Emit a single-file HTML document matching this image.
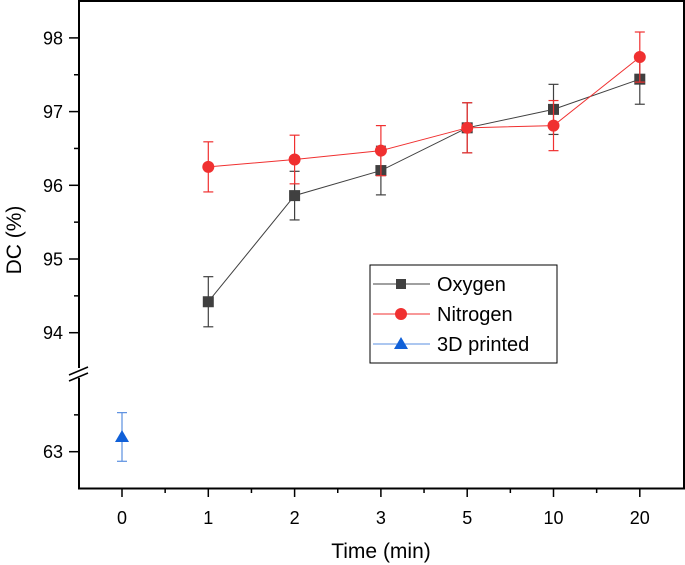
<!DOCTYPE html>
<html><head><meta charset="utf-8"><style>
html,body{margin:0;padding:0;background:#fff}
svg{display:block;font-family:"Liberation Sans",Arial,sans-serif}
</style></head><body>
<svg id="chart" width="685" height="565" viewBox="0 0 685 565"></svg>
<script>
const categories=["0","1","2","3","5","10","20"];
const oxygenX=[1,2,3,4,5,6];
const oxygenY=[94.42,95.86,96.20,96.78,97.03,97.44];
const oxygenErr=[0.34,0.33,0.33,0.34,0.34,0.34];
const nitrogenX=[1,2,3,4,5,6];
const nitrogenY=[96.25,96.35,96.47,96.78,96.81,97.74];
const nitrogenErr=[0.34,0.33,0.34,0.34,0.34,0.34];
const printedX=[0];
const printedY=[63.2];
const printedErr=[0.33];
const upperTicks=[94,95,96,97,98];
const lowerTicks=[63];

const NS="http://www.w3.org/2000/svg";
const svg=document.getElementById('chart');
function el(tag,attrs,parent){const e=document.createElementNS(NS,tag);for(const k in attrs)e.setAttribute(k,attrs[k]);(parent||svg).appendChild(e);return e;}
function xs(i){return 122+i*86.3;}
function ys(v){return v>80?332.7-(v-94)*73.7:451.7-(v-63)*73.7;}

const frame=el('path',{d:'M79,1 H684 V488.5 H79 Z',fill:'none',stroke:'#000','stroke-width':2});


const gap=el('rect',{x:70,y:368,width:18,height:10,fill:'#fff'});


const b1=el('line',{x1:69,y1:375,x2:88,y2:367,stroke:'#000','stroke-width':1.5});


const b2=el('line',{x1:69,y1:381,x2:88,y2:373,stroke:'#000','stroke-width':1.5});



upperTicks.concat(lowerTicks).forEach(v=>{
  const y=ys(v);
  const t=el('line',{x1:69,y1:y,x2:79,y2:y,stroke:'#000','stroke-width':1.5});
  
  
  const tx=el('text',{x:63,y:y+6.5,'text-anchor':'end','font-size':18});
  tx.textContent=v;
  
  
});
[94.5,95.5,96.5,97.5,63.5].forEach(v=>{
  const y=ys(v);
  const t=el('line',{x1:74,y1:y,x2:79,y2:y,stroke:'#000','stroke-width':1.5});
  
  
});
categories.forEach((c,i)=>{
  const x=xs(i);
  const t=el('line',{x1:x,y1:488,x2:x,y2:497,stroke:'#000','stroke-width':1.5});
  
  
  const tx=el('text',{x:x,y:524,'text-anchor':'middle','font-size':18});
  tx.textContent=c;
  
  
  if(i<categories.length-1){
    const m=el('line',{x1:x+43.15,y1:488,x2:x+43.15,y2:493,stroke:'#000','stroke-width':1.5});
    
    
  }
});
const yt=el('text',{x:0,y:0,'text-anchor':'middle','font-size':21,transform:'translate(21,240) rotate(-90)'});
yt.textContent='DC (%)';


const xt=el('text',{x:381,y:558,'text-anchor':'middle','font-size':21});
xt.textContent='Time (min)';



function series(X,Y,E,color,lineColor,shape,name){
  if(X.length>1){
    const pl=el('polyline',{points:X.map((x,i)=>xs(x)+','+ys(Y[i])).join(' '),fill:'none',stroke:lineColor,'stroke-width':1});
    
    
  }
  X.forEach((x,i)=>{
    const cx=xs(x),cy=ys(Y[i]),t=ys(Y[i]+E[i]),b=ys(Y[i]-E[i]);
    const g=el('g',{stroke:lineColor,'stroke-width':1.2});
    
    
    el('line',{x1:cx,y1:t,x2:cx,y2:b},g);
    el('line',{x1:cx-5,y1:t,x2:cx+5,y2:t},g);
    el('line',{x1:cx-5,y1:b,x2:cx+5,y2:b},g);
    let m;
    if(shape==='square') m=el('rect',{x:cx-5.5,y:cy-5.5,width:11,height:11,fill:color});
    else if(shape==='circle') m=el('circle',{cx:cx,cy:cy,r:6,fill:color});
    else m=el('path',{d:`M${cx},${cy-7} L${cx+7},${cy+5} L${cx-7},${cy+5} Z`,fill:color});
    
    
  });
}
series(oxygenX,oxygenY,oxygenErr,'#404040','#404040','square','oxygen');
series(nitrogenX,nitrogenY,nitrogenErr,'#f03030','#f03030','circle','nitrogen');
series(printedX,printedY,printedErr,'#1060d8','#5a8fe0','triangle','printed');

const lg=el('g',{});


el('rect',{x:370,y:265,width:187,height:98,fill:'#fff',stroke:'#000','stroke-width':1},lg);
[['Oxygen','#404040','square',284],['Nitrogen','#f03030','circle',314],['3D printed','#1060d8','triangle',344]].forEach(([n,c,s,y])=>{
  const e=el('g',{},lg);
  
  
  el('line',{x1:373,y1:y,x2:430,y2:y,stroke:s==='triangle'?'#5a8fe0':c,'stroke-width':1},e);
  if(s==='square') el('rect',{x:396,y:y-5,width:10,height:10,fill:c},e);
  else if(s==='circle') el('circle',{cx:401,cy:y,r:6,fill:c},e);
  else el('path',{d:`M401,${y-7} L408,${y+5} L394,${y+5} Z`,fill:c},e);
  const t=el('text',{x:437,y:y+7,'font-size':20},e);
  t.textContent=n;
});
</script>
</body></html>
